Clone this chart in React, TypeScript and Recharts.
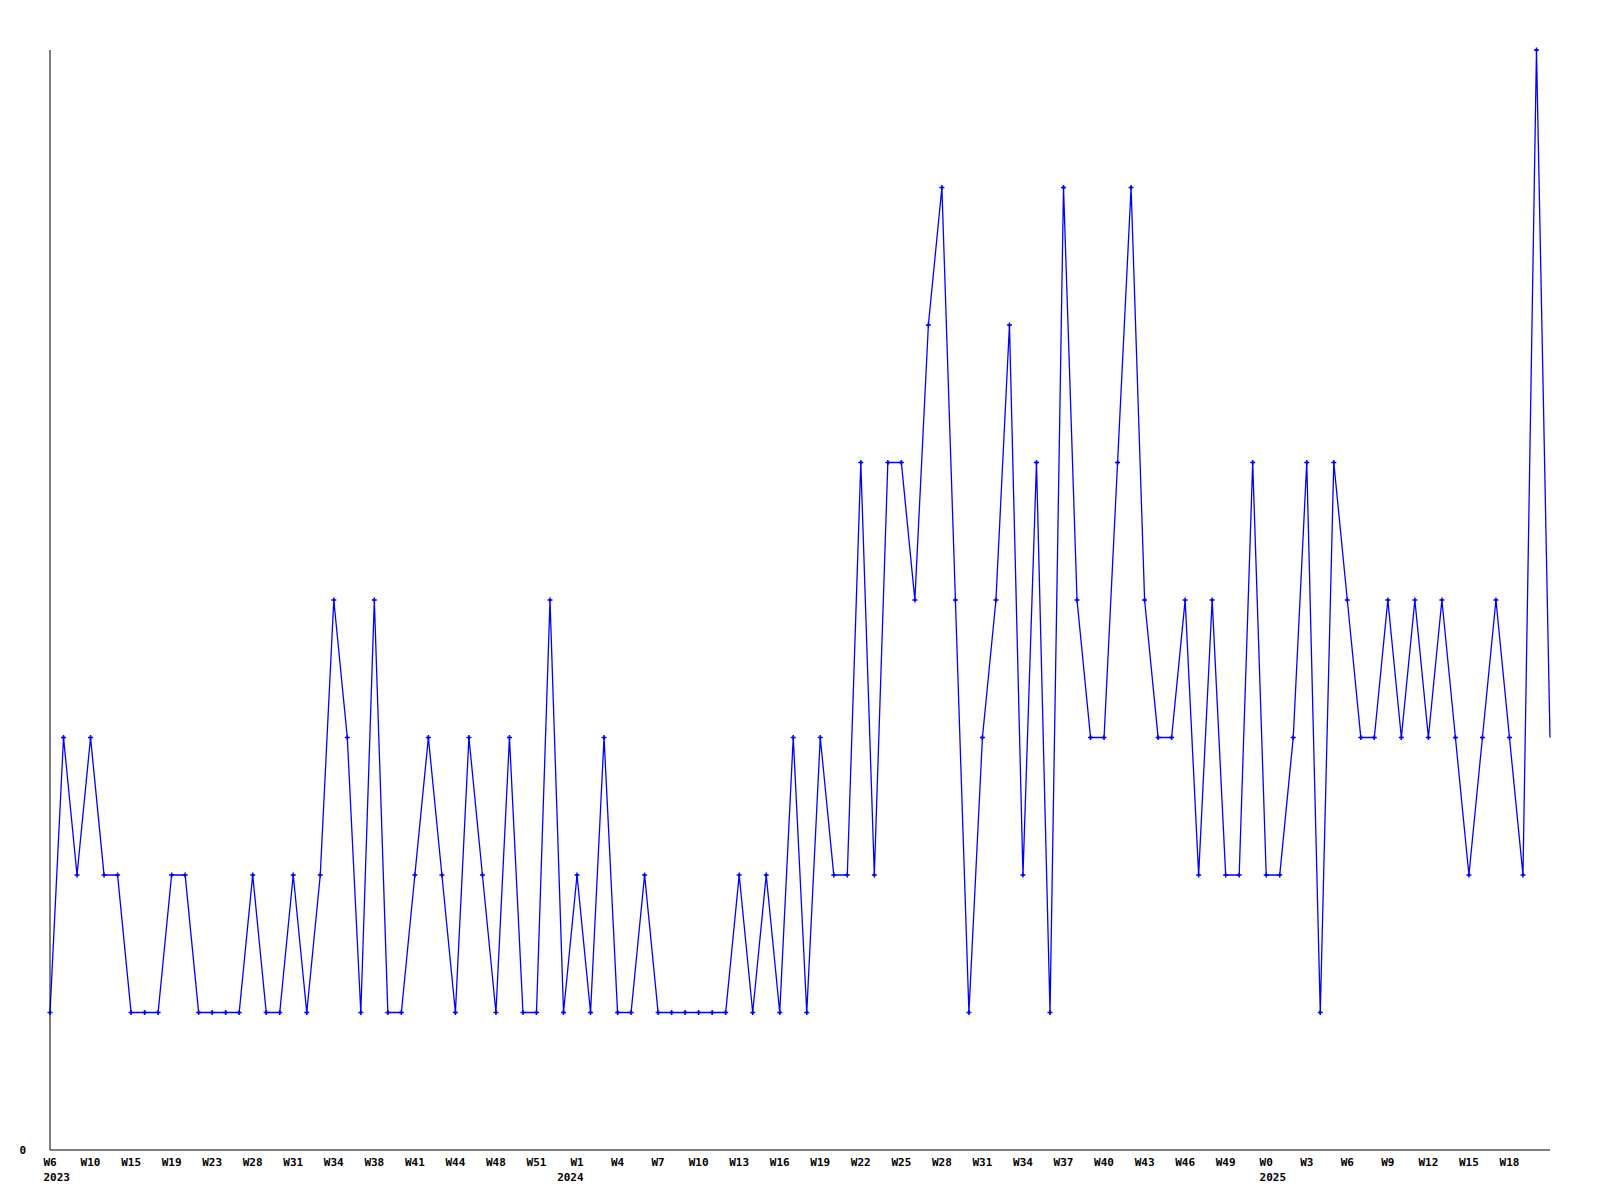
import { Line, LineChart, XAxis, YAxis } from "recharts";

// weekly counts, one per point (W6 2023 .. W19 2025)
const counts = [
  1, 3, 2, 3, 2, 2, 1, 1, 1, 2, 2, 1, 1, 1, 1, 2, 1, 1, 2, 1,
  2, 4, 3, 1, 4, 1, 1, 2, 3, 2, 1, 3, 2, 1, 3, 1, 1, 4, 1, 2,
  1, 3, 1, 1, 2, 1, 1, 1, 1, 1, 1, 2, 1, 2, 1, 3, 1, 3, 2, 2,
  5, 2, 5, 5, 4, 6, 7, 4, 1, 3, 4, 6, 2, 5, 1, 7, 4, 3, 3, 5,
  7, 4, 3, 3, 4, 2, 4, 2, 2, 5, 2, 2, 3, 5, 1, 5, 4, 3, 3, 4,
  3, 4, 3, 4, 3, 2, 3, 4, 3, 2, 8, 3,
];

// every third point gets a week label
const weekLabels = [
  "W6", "W10", "W15", "W19", "W23", "W28", "W31", "W34", "W38", "W41", "W44", "W48", "W51",
  "W1", "W4", "W7", "W10", "W13", "W16", "W19", "W22", "W25", "W28", "W31", "W34", "W37",
  "W40", "W43", "W46", "W49", "W0", "W3", "W6", "W9", "W12", "W15", "W18",
];
const yearLabels = ["2023", "2024", "2025"];
const yearAt = [0, 13, 30]; // index into weekLabels where a new year starts
const yearAlign = ["start", "end", "start"];

const LABEL_STEP = 3;
const BLUE = "#0000ff";
const FONT = "'DejaVu Sans Mono', monospace";
const CHAR_W = 6.6;

const rows = counts.map((v, i) => ({ i, v }));
const xTicks = weekLabels.map((_, k) => k * LABEL_STEP);

function WeekTick(props: any) {
  const { x, y, payload } = props;
  const k = Math.round(payload.value / LABEL_STEP);
  const yi = yearAt.indexOf(k);
  const half = (weekLabels[k].length * CHAR_W) / 2;
  const yx = yi >= 0 ? (yearAlign[yi] === "start" ? x - half : x + half) : x;
  return (
    <g>
      <text x={x} y={y} dy="0.71em" textAnchor="middle" fontFamily={FONT} fontWeight="bold" fontSize={11} fill="#000">
        {weekLabels[k]}
      </text>
      {yi >= 0 && (
        <text x={yx} y={y + 15} dy="0.71em" textAnchor={yearAlign[yi]} fontFamily={FONT} fontWeight="bold" fontSize={11} fill="#000">
          {yearLabels[yi]}
        </text>
      )}
    </g>
  );
}

function Marker(props: any) {
  const { cx, cy, index } = props;
  if (index === counts.length - 1 || cx == null) return <g key={`m-${index}`} />;
  return (
    <g key={`m-${index}`}>
      <path d={`M${cx - 2.5},${cy}H${cx + 2.5}M${cx},${cy - 2.5}V${cy + 2.5}`} stroke={BLUE} strokeWidth={1.5} />
      <rect x={cx - 1} y={cy - 1} width={2} height={2} fill={BLUE} />
    </g>
  );
}

export default function App() {
  return (
    <div style={{ position: "absolute", left: 0, top: 0, background: "#fff" }}>
      <LineChart width={1600} height={1200} data={rows} margin={{ top: 50, right: 50, bottom: 0, left: 0 }}>
        <XAxis
          dataKey="i"
          type="number"
          domain={[0, counts.length - 1]}
          ticks={xTicks}
          interval={0}
          tick={<WeekTick />}
          tickLine={false}
          tickSize={0}
          tickMargin={8}
          height={50}
          axisLine={{ stroke: "#000", strokeWidth: 1 }}
        />
        <YAxis
          domain={[0, 8]}
          ticks={[0]}
          width={50}
          tickLine={false}
          tickSize={0}
          tickMargin={24}
          axisLine={{ stroke: "#000", strokeWidth: 1 }}
          tick={{ fontFamily: FONT, fontWeight: "bold", fontSize: 11, fill: "#000" }}
        />
        <Line
          type="linear"
          dataKey="v"
          stroke={BLUE}
          strokeWidth={1.3}
          dot={Marker}
          activeDot={false}
          isAnimationActive={false}
        />
      </LineChart>
    </div>
  );
}
